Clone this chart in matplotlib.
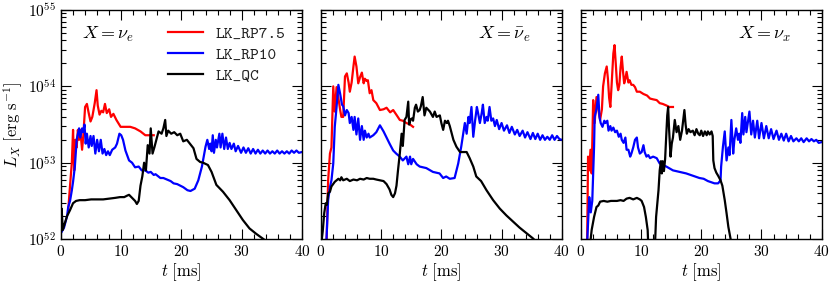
import matplotlib
matplotlib.use('Agg')
import matplotlib.pyplot as plt
import numpy as np
from matplotlib.ticker import MultipleLocator, LogLocator, FuncFormatter, NullFormatter

plt.rcParams['mathtext.fontset'] = 'cm'
plt.rcParams['font.family'] = 'serif'
plt.rcParams['font.serif'] = ['cmr10', 'DejaVu Serif']
plt.rcParams['axes.formatter.use_mathtext'] = True

# ---------------- data (t in ms, log10 of L in erg/s) ----------------
series_names = ['LK_RP7.5', 'LK_RP10', 'LK_QC']
panel_labels = [r'$X = \nu_e$', r'$X = \bar{\nu}_e$', r'$X = \nu_x$']
xticks_vals = [0, 10, 20, 30, 40]
ylog_ticks = [52, 53, 54, 55]

# ---- nu_e ----
red1_t = [1.2, 1.5, 1.8, 2.0, 2.2, 2.4, 2.6, 2.8, 3.0, 3.2,
          3.5, 3.7, 4.0, 4.3, 4.6, 4.9, 5.2, 5.6, 5.9, 6.1,
          6.4, 6.7, 7.0, 7.3, 7.6, 8.0, 8.3, 8.7, 9.2, 9.9,
          10.7, 11.5, 12.3, 13.2, 14.0, 14.9, 15.4]
red1_l = [52.38, 52.7, 53.0, 53.43, 52.9, 53.3, 53.2, 53.43, 53.3, 53.43,
          53.17, 53.35, 53.73, 53.77, 53.65, 53.54, 53.6, 53.78, 53.95, 53.75,
          53.63, 53.68, 53.66, 53.77, 53.65, 53.7, 53.6, 53.64, 53.56, 53.47,
          53.47, 53.47, 53.45, 53.41, 53.36, 53.36, 53.36]

blue1_t = [0.0, 0.5, 1.0, 1.2, 1.5, 1.8, 2.0, 2.3, 2.6, 3.0,
           3.2, 3.5, 3.7, 3.9, 4.1, 4.3, 4.6, 4.9, 5.1, 5.4,
           5.7, 6.0, 6.3, 6.6, 6.9, 7.2, 7.5, 7.8, 8.1, 8.5,
           9.0, 9.3, 9.7, 10.0, 10.3, 10.7, 11.3, 11.8, 12.3, 12.9,
           13.4, 14.0, 14.5, 14.9, 15.4, 15.7, 16.5, 17.0, 17.6, 18.2,
           18.7, 19.3, 19.8, 20.3, 21.0, 21.5, 22.2, 22.8, 23.4, 24.0,
           24.3, 24.6, 24.8, 25.0, 25.2, 25.4, 25.7, 25.9, 26.3, 26.5,
           26.8, 27.1, 27.4, 27.7, 28.0, 28.3, 28.7, 29.0, 29.4, 29.9,
           30.3, 30.7, 31.1, 31.5, 31.9, 32.3, 32.7, 33.1, 33.5, 33.9,
           34.3, 34.7, 35.1, 35.5, 35.9, 36.3, 36.7, 37.1, 37.5, 37.9,
           38.3, 38.7, 39.1, 39.5, 40.0]
blue1_l = [52.08, 52.15, 52.3, 52.42, 52.5, 52.64, 52.75, 52.95, 53.3, 53.45,
           53.33, 53.45, 53.4, 53.5, 53.25, 53.38, 53.2, 53.35, 53.22, 53.35,
           53.12, 53.3, 53.15, 53.3, 53.12, 53.18, 53.1, 53.15, 53.1, 53.17,
           53.2, 53.25, 53.38, 53.36, 53.3, 53.16, 53.03, 53.0, 52.94, 52.95,
           52.9, 52.9, 52.87, 52.88, 52.84, 52.85, 52.8, 52.8, 52.78, 52.76,
           52.73, 52.72, 52.7, 52.68, 52.64, 52.63, 52.66, 52.77, 52.95, 53.21,
           53.3, 53.18, 53.25, 53.15, 53.36, 53.13, 53.3, 53.2, 53.38, 53.2,
           53.38, 53.18, 53.33, 53.18, 53.26, 53.18, 53.25, 53.15, 53.22, 53.13,
           53.2, 53.13, 53.19, 53.12, 53.18, 53.12, 53.17, 53.12, 53.16, 53.12,
           53.16, 53.12, 53.15, 53.12, 53.16, 53.12, 53.15, 53.12, 53.15, 53.12,
           53.16, 53.13, 53.16, 53.13, 53.14]

black1_t = [0.0, 0.1, 0.3, 0.6, 1.0, 1.5, 2.0, 2.5, 3.1, 4.0,
            5.0, 6.0, 7.0, 8.0, 9.0, 9.8, 10.5, 11.0, 11.3, 11.8,
            12.3, 12.6, 12.9, 13.2, 13.5, 13.8, 14.1, 14.4, 14.7, 14.9,
            15.2, 15.5, 16.2, 16.7, 17.0, 17.3, 17.5, 17.8, 18.3, 18.8,
            19.3, 19.8, 20.3, 20.9, 21.4, 22.0, 22.5, 23.1, 23.6, 24.4,
            25.0, 25.8, 26.9, 28.0, 29.1, 30.2, 31.3, 32.4, 33.8, 34.5]
black1_l = [52.1, 52.4, 52.12, 52.2, 52.3, 52.38, 52.47, 52.5, 52.51, 52.51,
            52.52, 52.52, 52.52, 52.53, 52.54, 52.55, 52.55, 52.57, 52.58, 52.54,
            52.5, 52.46, 52.5, 52.7, 52.82, 53.0, 52.9, 53.23, 53.12, 53.45,
            53.12, 53.2, 53.41, 53.38, 53.45, 53.56, 53.35, 53.42, 53.38, 53.4,
            53.36, 53.38, 53.28, 53.3, 53.25, 53.19, 53.05, 53.01, 53.0, 52.97,
            52.88, 52.71, 52.62, 52.51, 52.38, 52.25, 52.14, 52.07, 51.99, 51.9]

# ---- anti nu_e ----
red2_t = [0.94, 1.2, 1.5, 1.75, 2.05, 2.3, 2.6, 2.9, 3.2, 3.4,
          3.7, 4.0, 4.3, 4.6, 4.8, 5.1, 5.4, 5.6, 5.9, 6.2,
          6.5, 6.8, 7.1, 7.3, 7.6, 7.8, 8.1, 8.4, 8.7, 9.2,
          9.8, 10.4, 10.9, 11.5, 12.0, 12.6, 13.1, 13.6, 14.2, 14.8,
          15.3]
red2_l = [51.95, 52.77, 53.12, 53.2, 54.0, 53.67, 53.99, 53.85, 53.69, 53.6,
          53.6, 54.13, 54.17, 54.05, 53.93, 54.05, 54.26, 54.39, 54.26, 54.04,
          54.12, 54.18, 54.04, 54.1, 54.07, 54.08, 53.91, 53.95, 53.82, 53.78,
          53.69, 53.7, 53.72, 53.66, 53.69, 53.62, 53.56, 53.55, 53.52, 53.5,
          53.47]

blue2_t = [0.9, 1.2, 1.5, 1.75, 2.05, 2.3, 2.6, 2.9, 3.2, 3.5,
           3.7, 4.0, 4.3, 4.6, 4.8, 5.1, 5.4, 5.6, 5.9, 6.2,
           6.5, 6.8, 7.1, 7.3, 7.6, 7.9, 8.1, 8.7, 9.2, 9.8,
           10.1, 10.4, 10.9, 11.4, 12.0, 12.5, 13.1, 13.6, 14.2, 14.5,
           14.8, 15.0, 15.3, 15.9, 16.4, 17.5, 18.6, 19.7, 20.3, 20.8,
           21.4, 22.2, 22.8, 23.3, 23.9, 24.2, 24.5, 24.7, 25.0, 25.3,
           25.6, 25.9, 26.1, 26.4, 26.7, 26.9, 27.2, 27.5, 27.7, 28.0,
           28.3, 28.6, 28.9, 29.2, 29.6, 30.0, 30.4, 30.9, 31.3, 31.7,
           32.2, 32.6, 33.0, 33.5, 33.9, 34.3, 34.8, 35.2, 35.6, 36.0,
           36.4, 36.8, 37.2, 37.6, 38.0, 38.4, 38.8, 39.2, 39.6, 40.0]
blue2_l = [51.95, 52.51, 52.68, 52.77, 52.99, 53.47, 53.73, 54.02, 53.9, 53.76,
           53.74, 53.62, 53.69, 53.65, 53.52, 53.6, 53.43, 53.6, 53.37, 53.58,
           53.3, 53.48, 53.3, 53.42, 53.33, 53.38, 53.33, 53.36, 53.4, 53.49,
           53.45, 53.41, 53.33, 53.25, 53.16, 53.12, 53.08, 53.03, 53.08, 52.98,
           53.08, 52.98, 53.05, 52.98, 52.95, 52.93, 52.88, 52.86, 52.8, 52.82,
           52.79, 52.8, 52.99, 53.21, 53.52, 53.38, 53.6, 53.52, 53.73, 53.34,
           53.55, 53.73, 53.65, 53.52, 53.65, 53.76, 53.52, 53.6, 53.55, 53.73,
           53.55, 53.58, 53.48, 53.56, 53.44, 53.52, 53.42, 53.49, 53.39, 53.47,
           53.37, 53.43, 53.35, 53.42, 53.33, 53.4, 53.31, 53.39, 53.31, 53.38,
           53.3, 53.36, 53.3, 53.34, 53.3, 53.36, 53.3, 53.35, 53.31, 53.3]

black2_t = [0.0, 0.3, 0.55, 0.8, 1.0, 1.2, 1.5, 1.75, 2.3, 2.9,
            3.2, 3.4, 3.7, 4.3, 4.8, 5.4, 6.0, 6.5, 7.1, 7.6,
            8.1, 8.7, 9.2, 9.8, 10.4, 10.9, 11.4, 11.7, 12.0, 12.3,
            12.55, 12.8, 13.1, 13.4, 13.6, 13.9, 14.2, 14.5, 14.65, 14.9,
            15.1, 15.3, 15.6, 15.8, 16.1, 16.4, 16.6, 16.9, 17.2, 17.5,
            18.1, 18.6, 18.9, 19.2, 19.75, 20.0, 20.3, 20.6, 20.9, 21.1,
            21.4, 22.0, 22.5, 23.1, 23.6, 24.2, 24.7, 25.3, 25.8, 26.6,
            27.5, 28.6, 29.7, 30.8, 31.9, 33.0, 34.1, 35.2, 35.7, 36.5]
black2_l = [51.9, 52.1, 52.34, 52.47, 52.45, 52.6, 52.62, 52.69, 52.75, 52.79,
            52.77, 52.81, 52.77, 52.79, 52.76, 52.78, 52.77, 52.79, 52.78, 52.8,
            52.79, 52.79, 52.78, 52.77, 52.76, 52.72, 52.65, 52.58, 52.55, 52.6,
            52.7, 52.9, 53.12, 53.38, 53.22, 53.56, 53.6, 53.8, 53.5, 53.57,
            53.58, 53.55, 53.72, 53.76, 53.67, 53.69, 53.74, 53.86, 53.62, 53.72,
            53.67, 53.6, 53.67, 53.6, 53.62, 53.52, 53.43, 53.55, 53.52, 53.55,
            53.48, 53.3, 53.21, 53.14, 53.14, 53.14, 53.06, 52.95, 52.82, 52.76,
            52.64, 52.51, 52.4, 52.31, 52.23, 52.15, 52.08, 52.01, 51.97, 51.9]

# ---- nu_x ----
red3_t = [1.05, 1.2, 1.4, 1.6, 1.8, 2.05, 2.3, 2.6, 2.9, 3.2,
          3.5, 3.7, 4.0, 4.3, 4.5, 4.7, 4.9, 5.1, 5.4, 5.6,
          5.8, 6.0, 6.2, 6.4, 6.6, 6.8, 7.0, 7.2, 7.4, 7.6,
          7.9, 8.1, 8.4, 8.7, 9.0, 9.3, 9.8, 10.4, 11.0, 11.5,
          12.0, 12.6, 13.1, 13.6, 14.2, 14.7, 15.3]
red3_l = [51.95, 53.08, 52.9, 53.17, 52.86, 53.82, 53.52, 53.86, 53.7, 53.56,
          53.7, 54.0, 54.17, 54.26, 54.1, 53.85, 53.73, 54.0, 54.43, 54.54,
          54.3, 54.05, 53.95, 54.02, 54.25, 54.39, 54.2, 54.04, 54.1, 54.19,
          54.05, 54.08, 54.02, 54.02, 53.99, 53.93, 53.93, 53.9, 53.88, 53.84,
          53.83, 53.82, 53.78, 53.77, 53.75, 53.73, 53.73]

blue3_t = [1.05, 1.4, 1.65, 1.9, 2.2, 2.3, 2.6, 2.9, 3.1, 3.3,
           3.6, 3.9, 4.1, 4.4, 4.6, 4.9, 5.1, 5.4, 5.7, 6.0,
           6.3, 6.6, 6.8, 7.1, 7.4, 7.6, 7.9, 8.2, 8.4, 8.7,
           9.0, 9.3, 9.5, 9.8, 10.1, 10.4, 10.6, 10.9, 11.2, 11.5,
           12.0, 12.6, 13.1, 13.6, 14.2, 15.3, 16.4, 17.5, 18.6, 19.7,
           20.4, 21.1, 22.2, 22.8, 23.2, 23.3, 23.6, 23.9, 24.2, 24.5,
           24.7, 25.0, 25.3, 25.5, 25.8, 26.1, 26.3, 26.5, 26.8, 27.0,
           27.3, 27.5, 28.0, 28.3, 28.6, 28.9, 29.3, 29.6, 30.0, 30.4,
           30.8, 31.2, 31.6, 32.0, 32.5, 32.9, 33.3, 33.7, 34.1, 34.5,
           34.9, 35.3, 35.8, 36.2, 36.6, 37.0, 37.5, 37.9, 38.3, 38.7,
           39.1, 39.5, 40.0]
blue3_l = [51.95, 52.55, 52.35, 52.5, 53.21, 53.6, 53.7, 53.89, 53.6, 53.52,
           53.47, 53.55, 53.52, 53.55, 53.42, 53.48, 53.42, 53.46, 53.4, 53.42,
           53.34, 53.38, 53.3, 53.26, 53.33, 53.17, 53.17, 53.08, 53.12, 53.2,
           53.3, 53.33, 53.2, 53.12, 53.14, 53.23, 53.14, 53.08, 53.1, 53.06,
           53.08, 53.06, 52.99, 52.97, 52.95, 52.9, 52.88, 52.86, 52.83, 52.8,
           52.79, 52.76, 52.73, 52.73, 52.77, 52.95, 53.21, 53.41, 53.03, 53.2,
           53.1, 53.56, 53.12, 53.3, 53.45, 53.3, 53.38, 53.26, 53.65, 53.37,
           53.6, 53.4, 53.67, 53.37, 53.55, 53.33, 53.55, 53.32, 53.52, 53.32,
           53.48, 53.32, 53.44, 53.31, 53.42, 53.3, 53.38, 53.29, 53.38, 53.28,
           53.35, 53.28, 53.32, 53.28, 53.32, 53.27, 53.32, 53.28, 53.31, 53.28,
           53.3, 53.26, 53.27]

black3_t = [1.5, 1.8, 2.2, 2.6, 2.9, 3.2, 3.8, 4.4, 5.0, 5.4,
            6.0, 6.6, 7.1, 7.6, 8.1, 8.7, 9.3, 9.8, 10.1, 10.5,
            10.8, 11.1, 11.4, 12.1, 12.5, 12.9, 13.1, 13.3, 13.45, 13.6,
            13.8, 14.0, 14.2, 14.35, 14.5, 14.65, 14.9, 15.1, 15.3, 15.6,
            15.9, 16.2, 16.5, 16.8, 17.2, 17.4, 17.6, 17.9, 18.2, 18.6,
            18.9, 19.2, 19.5, 19.75, 20.0, 20.3, 20.6, 20.9, 21.1, 21.4,
            21.7, 21.9, 22.0, 22.1, 22.2, 22.5, 22.8, 23.2, 23.5, 23.9,
            24.2, 24.5, 24.9, 25.2]
black3_l = [51.9, 52.12, 52.29, 52.42, 52.44, 52.49, 52.5, 52.49, 52.5, 52.5,
            52.5, 52.51, 52.5, 52.53, 52.54, 52.52, 52.54, 52.52, 52.5, 52.42,
            52.29, 52.12, 51.5, 51.5, 52.29, 52.64, 52.9, 53.02, 52.86, 53.02,
            52.89, 53.05, 53.38, 53.62, 53.73, 53.45, 53.08, 53.25, 53.33, 53.56,
            53.4, 53.48, 53.3, 53.42, 53.69, 53.5, 53.38, 53.44, 53.4, 53.42,
            53.36, 53.44, 53.38, 53.36, 53.42, 53.35, 53.41, 53.36, 53.41, 53.37,
            53.41, 53.35, 53.03, 52.98, 52.93, 52.87, 52.83, 52.77, 52.7, 52.51,
            52.34, 52.16, 51.99, 51.85]

colors = ['#ff0000', '#0000ff', '#000000']

panels = [
    [(red1_t, red1_l), (blue1_t, blue1_l), (black1_t, black1_l)],
    [(red2_t, red2_l), (blue2_t, blue2_l), (black2_t, black2_l)],
    [(red3_t, red3_l), (blue3_t, blue3_l), (black3_t, black3_l)],
]

fig, axes = plt.subplots(1, 3, figsize=(8.3, 2.85), dpi=100, sharey=True)
fig.subplots_adjust(left=0.0735, right=0.990, top=0.965, bottom=0.161, wspace=0.079)

label_pos = [(0.087, 'left'), (0.871, 'right'), (0.871, 'right')]

for i, ax in enumerate(axes):
    for (t, lg), c, name in zip(panels[i], colors, series_names):
        ax.plot(t, 10.0 ** np.array(lg), color=c, lw=1.6, label=name)
    ax.set_yscale('log')
    ax.set_xlim(0, 40)
    ax.set_ylim(10.0 ** ylog_ticks[0], 10.0 ** ylog_ticks[-1])
    ax.set_xticks(xticks_vals)
    ax.xaxis.set_minor_locator(MultipleLocator(2))
    ax.xaxis.set_major_formatter(FuncFormatter(lambda v, p: r'$%d$' % v))
    ax.yaxis.set_major_locator(LogLocator(base=10))
    ax.yaxis.set_minor_locator(LogLocator(base=10, subs=np.arange(2, 10)))
    ax.yaxis.set_minor_formatter(NullFormatter())
    ax.yaxis.set_major_formatter(FuncFormatter(lambda v, p: r'$10^{%d}$' % round(np.log10(v))))
    ax.tick_params(which='both', direction='in', top=True, right=True, labelsize=11)
    ax.tick_params(which='major', length=7, width=0.8)
    ax.tick_params(which='minor', length=3.5, width=0.8)
    for s in ax.spines.values():
        s.set_linewidth(1.0)
    ax.set_xlabel(r'$t\ [\mathrm{ms}]$', fontsize=12, labelpad=2)
    xp, ha = label_pos[i]
    ax.text(xp, 0.895, panel_labels[i], transform=ax.transAxes, ha=ha, va='center', fontsize=13)

axes[0].set_ylabel(r'$L_X\ [\mathrm{erg\ s^{-1}}]$', fontsize=12, labelpad=2)
leg = axes[0].legend(loc='upper left', bbox_to_anchor=(0.444, 0.93), frameon=False,
                     prop={'family': 'cmtt10', 'size': 12}, handlelength=2.1,
                     handletextpad=0.75, labelspacing=0.33, borderpad=0.0,
                     borderaxespad=0.0)
for txt in leg.get_texts():
    txt.set_color('#222222')

fig.savefig('out.png', dpi=100)
